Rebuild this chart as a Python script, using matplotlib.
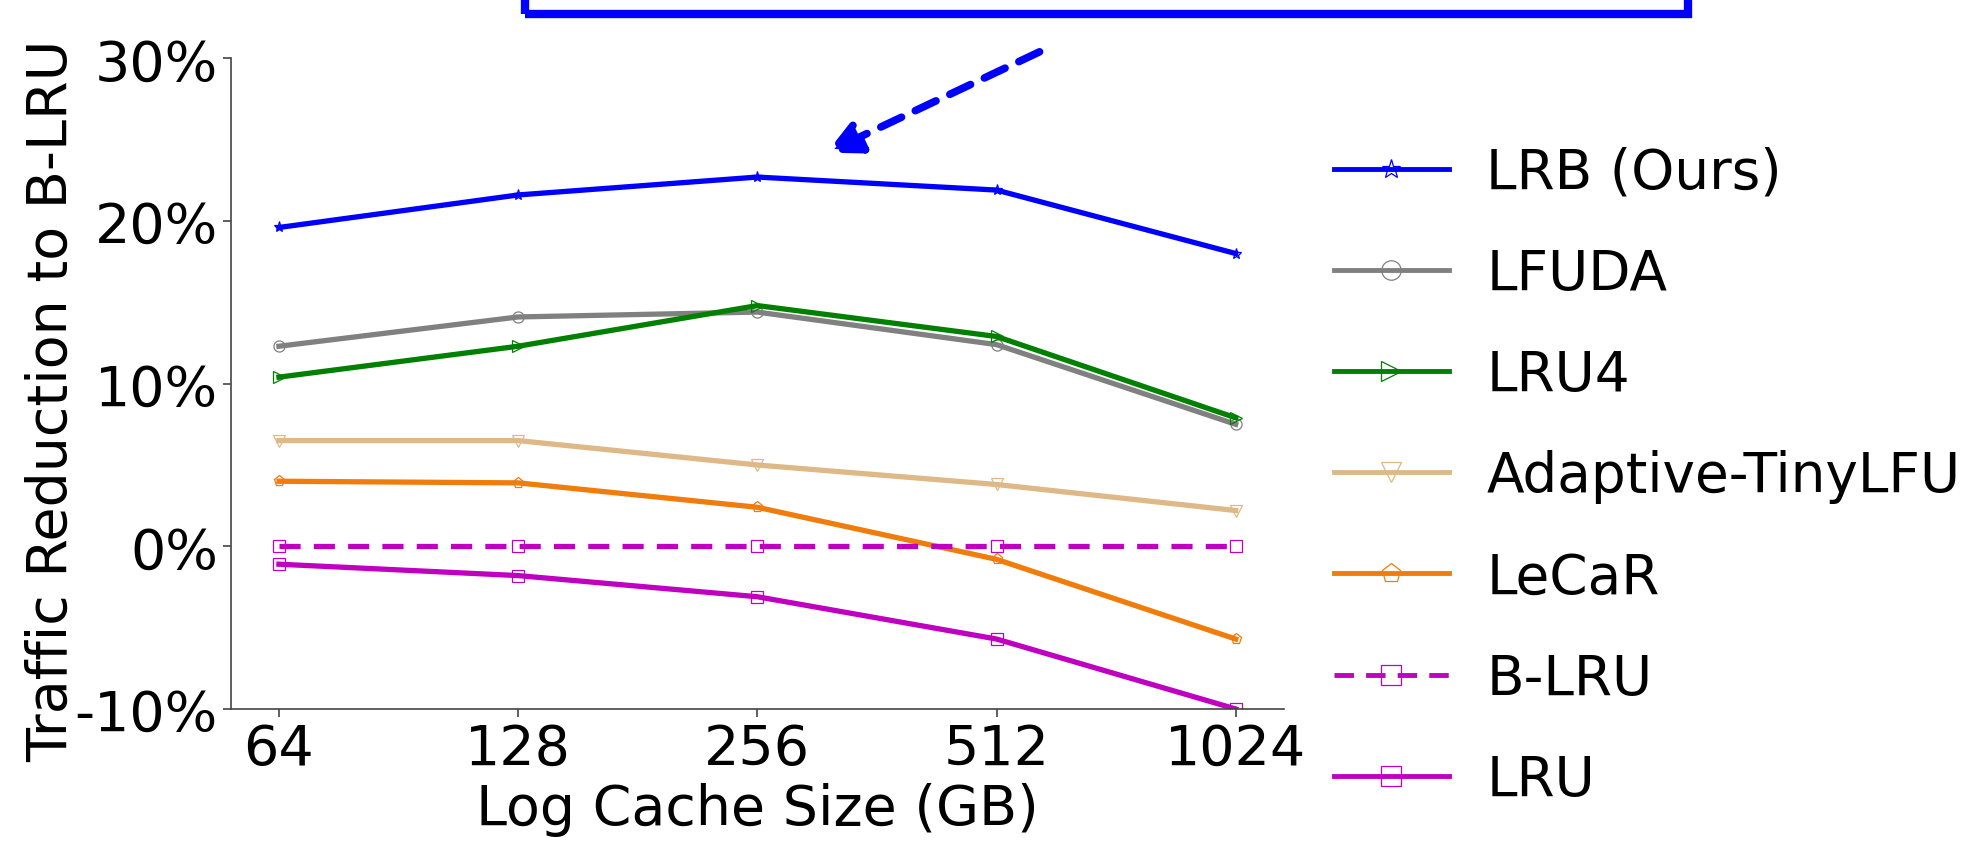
import matplotlib
matplotlib.use("Agg")
import matplotlib.pyplot as plt
from matplotlib.patches import Rectangle

cache_sizes = ["64", "128", "256", "512", "1024"]
labels = ["LRB (Ours)", "LFUDA", "LRU4", "Adaptive-TinyLFU", "LeCaR", "B-LRU", "LRU"]
lrb = [19.6, 21.6, 22.7, 21.9, 18.0]
lfuda = [12.3, 14.1, 14.4, 12.4, 7.5]
lru4 = [10.4, 12.3, 14.8, 12.9, 7.9]
tinylfu = [6.5, 6.5, 5.0, 3.8, 2.2]
lecar = [4.0, 3.9, 2.4, -0.8, -5.7]
blru = [0.0, 0.0, 0.0, 0.0, 0.0]
lru = [-1.1, -1.8, -3.1, -5.7, -10.0]
yticks = [-10, 0, 10, 20, 30]

series = [lrb, lfuda, lru4, tinylfu, lecar, blru, lru]
colors = ["#0000ff", "#808080", "#008000", "#deb887", "#f07c0c", "#c000c0", "#c000c0"]
markers = ["*", "o", ">", "v", "p", "s", "s"]
styles = ["-", "-", "-", "-", "-", "--", "-"]

fig = plt.figure(figsize=(19.82, 8.45), dpi=100)
ax = fig.add_axes([0.1166, 0.1598, 0.531, 0.770])

x = list(range(len(cache_sizes)))
for vals, lab, c, m, ls in zip(series, labels, colors, markers, styles):
    ax.plot(x, vals, color=c, linestyle=ls, linewidth=3.8, marker=m,
            markersize=8, fillstyle="none", markeredgewidth=0.9,
            label=lab, dashes=(4, 2.5) if ls == "--" else (None, None))

ax.set_xlim(-0.2, 4.2)
ax.set_ylim(-10, 30)
ax.set_xticks(x)
ax.set_xticklabels(cache_sizes)
ax.set_yticks(yticks)
ax.set_yticklabels([f"{v}%" for v in yticks])
ax.tick_params(labelsize=40, color="#444444", length=6, width=1.2)
for s in ["top", "right"]:
    ax.spines[s].set_visible(False)
for s in ["left", "bottom"]:
    ax.spines[s].set_color("#444444")
    ax.spines[s].set_linewidth(1.2)
ax.set_xlabel("Log Cache Size (GB)", fontsize=40, labelpad=4)
ax.set_ylabel("Traffic Reduction to B-LRU", fontsize=40, labelpad=-3)
ax.yaxis.label.set_y(0.475)

leg = fig.legend(loc="center left", bbox_to_anchor=(0.673, 0.435), frameon=False,
                 fontsize=39.5, handlelength=2.1, handletextpad=0.68,
                 labelspacing=0.86, borderaxespad=0, borderpad=0)
for h in leg.legend_handles:
    h.set_linewidth(3.5)
    h.set_markersize(14)

# cropped annotation box at the top
fig.patches.append(Rectangle((525 / 1982, 1 - 15 / 845), (1688 - 525) / 1982, 0.2,
                             transform=fig.transFigure, fill=False,
                             edgecolor="#0000ff", linewidth=6, clip_on=False))

ax.annotate("", xy=(2.29, 24.2), xytext=(3.18, 30.4), xycoords="data",
            textcoords="data", annotation_clip=False,
            arrowprops=dict(arrowstyle="-|>,head_length=0.5,head_width=0.25",
                            linestyle=(0, (3, 2)), lw=5.5,
                            color="#0000ff", mutation_scale=40,
                            shrinkA=0, shrinkB=0))

fig.savefig("out.png", dpi=100)
